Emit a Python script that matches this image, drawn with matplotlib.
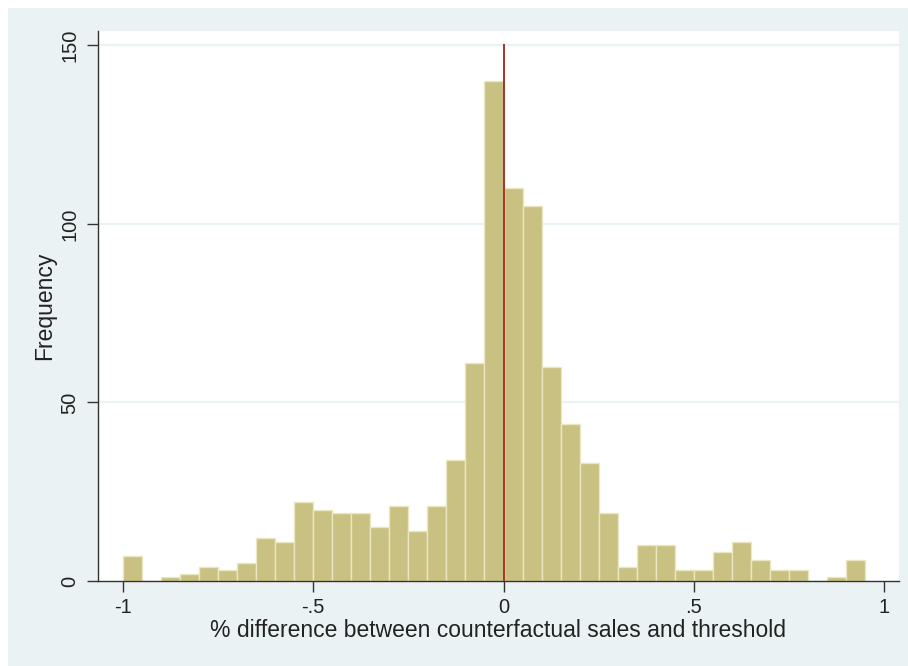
import numpy as np
import matplotlib.pyplot as plt
from matplotlib.patches import Rectangle

# bin edges (width 0.05) and counts per bin
bin_left = np.round(np.arange(-1.0, 0.95, 0.05), 2)
counts = [7, 0, 1, 2, 4, 3, 5, 12, 11, 22,
          20, 19, 19, 15, 21, 14, 21, 34, 61, 140,
          110, 105, 60, 44, 33, 19, 4, 10, 10, 3,
          3, 8, 11, 6, 3, 3, 0, 1, 6]
bin_width = 0.05

x_ticks = [-1, -0.5, 0, 0.5, 1]
x_ticklabels = ['-1', '-.5', '0', '.5', '1']
y_ticks = [0, 50, 100, 150]

plt.rcParams['font.family'] = ['Liberation Sans', 'DejaVu Sans']

bg = '#eaf2f3'
fig = plt.figure(figsize=(9.08, 6.66), dpi=100, facecolor='white')
# light outer panel, slightly inset from the top-left
fig.patches.append(Rectangle((8 / 908, 0), 1, 1 - 8 / 666, transform=fig.transFigure,
                             facecolor=bg, edgecolor='none', zorder=-5))

ax = fig.add_axes([98 / 908, 85 / 666, 801 / 908, 550.5 / 666])
ax.set_zorder(2)
ax.set_facecolor('white')

for yv in y_ticks[1:]:
    ax.axhline(yv, color=bg, linewidth=1.6, zorder=0)

ax.bar(bin_left, counts, width=bin_width, align='edge', color='#c9c181',
       edgecolor='#ebe6c2', linewidth=1.0, zorder=2)
ax.plot([0, 0], [0, 150], color='#a4342c', linewidth=1.4, zorder=3)

ax.set_xlim(-1.0658, 1.0395)
ax.set_ylim(0, 154.2)
ax.set_xticks(x_ticks)
ax.set_xticklabels(x_ticklabels)
ax.set_yticks(y_ticks)
ax.set_yticklabels([str(v) for v in y_ticks], rotation=90, va='center')

for side in ['top', 'right']:
    ax.spines[side].set_visible(False)
for side in ['left', 'bottom']:
    ax.spines[side].set_color('#333333')
    ax.spines[side].set_linewidth(1.0)
ax.tick_params(axis='both', length=8, width=1.0, color='#333333',
               labelsize=14.5, labelcolor='#222222')
ax.tick_params(axis='x', pad=4)
ax.tick_params(axis='y', pad=5.5)

ax.set_xlabel('% difference between counterfactual sales and threshold',
              fontsize=16.5, color='#222222', labelpad=2)
ax.set_ylabel('Frequency', fontsize=16.5, color='#222222', labelpad=3)

fig.savefig('out.png', dpi=100, facecolor=fig.get_facecolor())
